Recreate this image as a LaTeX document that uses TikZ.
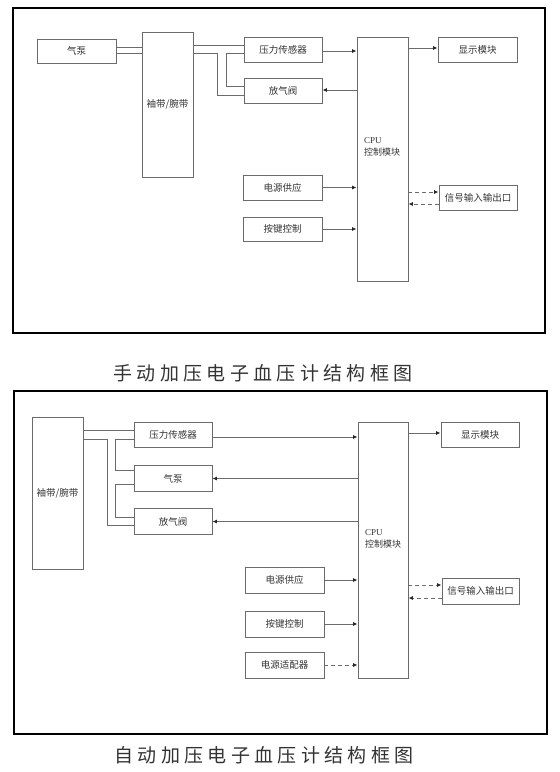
\documentclass[tikz,border=0pt]{standalone}
\usepackage{fontspec}
\setmainfont{Liberation Serif}
\newfontfamily\cjk{Noto Sans CJK SC}
\newfontfamily\capfont[LetterSpace=23]{Noto Sans CJK SC}
\usetikzlibrary{arrows.meta}

\newlength{\du}
\setlength{\du}{1pt}
\definecolor{dialinecolor}{rgb}{0.420000, 0.420000, 0.420000}
\definecolor{dialinetext}{rgb}{0.200000, 0.200000, 0.200000}

\tikzset{
  blockbox/.style n args={2}{draw=dialinecolor, line width=0.9\du, rectangle, inner sep=0pt,
    minimum width=#1\du, minimum height=#2\du, text=dialinetext,
    font=\cjk\fontsize{9.5}{11}\selectfont},
  tube/.style={draw=dialinecolor, line width=0.9\du},
  flow/.style={tube, -{Latex[length=4.5pt,width=4pt,color=black!85]}},
  sig/.style={flow, dash pattern=on 4pt off 3pt},
  cpulabel/.style={anchor=north west, align=left, inner sep=0pt, text=dialinetext,
    font=\fontsize{9}{12}\selectfont},
  caption/.style={text=black!80, font=\capfont\fontsize{19}{21}\selectfont},
}

\begin{document}
\begin{tikzpicture}
\pgftransformxscale{1.000000}
\pgftransformyscale{-1.000000}
\useasboundingbox (0\du,0\du) rectangle (560\du,772\du);

% manual inflation
\draw[line width=1.3\du] (13\du,8\du) rectangle (545\du,333\du);
\node[blockbox={79}{24}] (mpump) at (76.5\du,51\du) {气泵};
\node[blockbox={51}{145}] (mcuff) at (167.5\du,104.5\du) {袖带/腕带};
\node[blockbox={78}{25}] (msens) at (283\du,49.5\du) {压力传感器};
\node[blockbox={78}{25}] (mvalve) at (283\du,90.5\du) {放气阀};
\node[blockbox={51}{244}] (mcpu) at (382.5\du,159\du) {};
\node[cpulabel] (mcputext) at (364\du,137\du) {CPU\\{\cjk 控制模块}};
\node[blockbox={79}{25}] (mdisp) at (477.5\du,49.5\du) {显示模块};
\node[blockbox={79}{25}] (mpower) at (282.5\du,187.5\du) {电源供应};
\node[blockbox={79}{24}] (mkey) at (282.5\du,229\du) {按键控制};
\node[blockbox={78}{25}] (mio) at (478\du,197.5\du) {信号输入输出口};
\node[caption] (mtitle) at (263\du,373\du) {手动加压电子血压计结构框图};

\draw[tube] (mpump.east |- 0\du,47\du) -- (mcuff.west |- 0\du,47\du);
\draw[tube] (mpump.east |- 0\du,53\du) -- (mcuff.west |- 0\du,53\du);
\draw[tube] (mcuff.east |- 0\du,45\du) -- (msens.west |- 0\du,45\du);
\draw[tube] (mcuff.east |- 0\du,53\du) -- (217\du,53\du) |- (mvalve.west |- 0\du,95\du);
\draw[tube] (msens.west |- 0\du,53\du) -| (226\du,86\du) -- (mvalve.west |- 0\du,86\du);
\draw[flow] (msens.east |- 0\du,51\du) -- (mcpu.west |- 0\du,51\du);
\draw[flow] (mcpu.west |- 0\du,90\du) -- (mvalve.east |- 0\du,90\du);
\draw[flow] (mcpu.east |- 0\du,48\du) -- (mdisp.west |- 0\du,48\du);
\draw[flow] (mpower.east) -- (mcpu.west |- mpower.east);
\draw[flow] (mkey.east) -- (mcpu.west |- mkey.east);
\draw[sig] (mcpu.east |- 0\du,192\du) -- (mio.west |- 0\du,192\du);
\draw[sig] (mio.west |- 0\du,204\du) -- (mcpu.east |- 0\du,204\du);

% automatic inflation
\draw[line width=1.3\du] (14\du,391\du) rectangle (547\du,734\du);
\node[blockbox={51}{152}] (zcuff) at (57.5\du,493\du) {袖带/腕带};
\node[blockbox={78}{25}] (zsens) at (173\du,434.5\du) {压力传感器};
\node[blockbox={78}{26}] (zpump) at (173\du,478.5\du) {气泵};
\node[blockbox={78}{26}] (zvalve) at (173\du,521.5\du) {放气阀};
\node[blockbox={50}{256}] (zcpu) at (383\du,550\du) {};
\node[cpulabel] (zcputext) at (365\du,529\du) {CPU\\{\cjk 控制模块}};
\node[blockbox={78}{25}] (zdisp) at (480\du,434.5\du) {显示模块};
\node[blockbox={79}{26}] (zpower) at (284.5\du,580\du) {电源供应};
\node[blockbox={79}{26}] (zkey) at (284.5\du,624\du) {按键控制};
\node[blockbox={79}{26}] (zadapt) at (284.5\du,665\du) {电源适配器};
\node[blockbox={77}{26}] (zio) at (480.5\du,591\du) {信号输入输出口};
\node[caption] (ztitle) at (264\du,755\du) {自动加压电子血压计结构框图};

\draw[tube] (zcuff.east |- 0\du,430\du) -- (zsens.west |- 0\du,430\du);
\draw[tube] (zcuff.east |- 0\du,439\du) -- (107\du,439\du) |- (zvalve.west |- 0\du,525\du);
\draw[tube] (zsens.west |- 0\du,439\du) -| (115\du,470\du) -- (zpump.west |- 0\du,470\du);
\draw[tube] (zpump.west |- 0\du,484\du) -| (115\du,517\du) -- (zvalve.west |- 0\du,517\du);
\draw[flow] (zsens.east |- 0\du,437\du) -- (zcpu.west |- 0\du,437\du);
\draw[flow] (zcpu.west |- zpump.east) -- (zpump.east);
\draw[flow] (zcpu.west |- zvalve.east) -- (zvalve.east);
\draw[flow] (zcpu.east |- 0\du,433\du) -- (zdisp.west |- 0\du,433\du);
\draw[flow] (zpower.east) -- (zcpu.west |- zpower.east);
\draw[flow] (zkey.east) -- (zcpu.west |- zkey.east);
\draw[sig] (zadapt.east) -- (zcpu.west |- zadapt.east);
\draw[sig] (zcpu.east |- 0\du,585\du) -- (zio.west |- 0\du,585\du);
\draw[sig] (zio.west |- 0\du,598\du) -- (zcpu.east |- 0\du,598\du);
\end{tikzpicture}
\end{document}
